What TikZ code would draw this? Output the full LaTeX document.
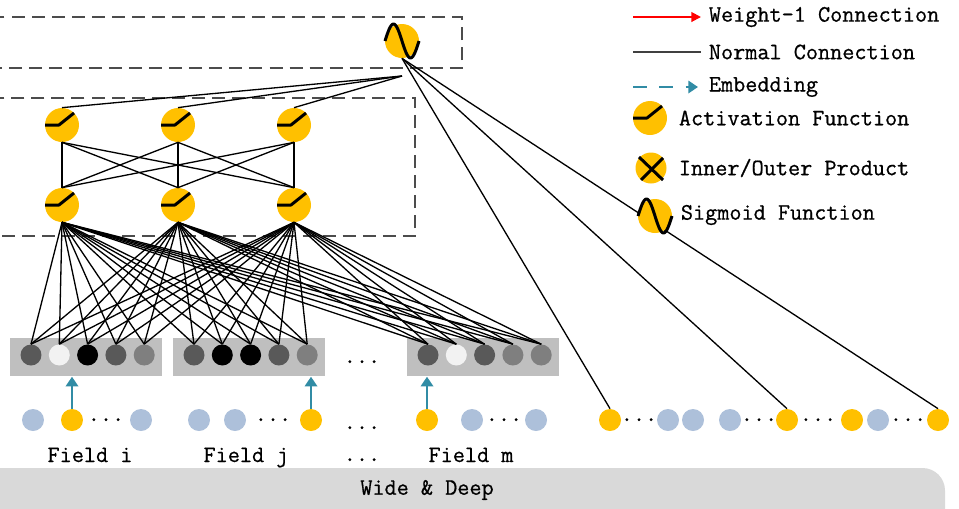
\documentclass[tikz,border=0pt]{standalone}
\usepackage{fontspec}
\usepackage{tikz}
\usetikzlibrary{arrows.meta,calc}

\newfontfamily\lblfont[FakeBold=0.7]{Latin Modern Mono}

\definecolor{yel}{RGB}{255,192,0}
\definecolor{fblue}{RGB}{173,192,218}
\definecolor{embcol}{RGB}{49,140,165}
\definecolor{boxgray}{RGB}{191,191,191}
\definecolor{bargray}{RGB}{217,217,217}
\definecolor{embdk}{RGB}{89,89,89}
\definecolor{embwt}{RGB}{242,242,242}
\definecolor{embbk}{RGB}{0,0,0}
\definecolor{embmd}{RGB}{127,127,127}

\tikzset{
  act/.style={circle, fill=yel, minimum size=0.68cm, inner sep=0pt},
  emb/.style={circle, minimum size=0.42cm, inner sep=0pt},
  feat/.style={circle, minimum size=0.44cm, inner sep=0pt},
  boxn/.style={fill=boxgray, minimum width=3.04cm, minimum height=0.76cm, inner sep=0pt, anchor=north west},
  conn/.style={line width=0.75pt},
  sym/.style={line width=1.7pt, line join=round},
  dbox/.style={draw=black!70, line width=1.1pt, dash pattern=on 7.4pt off 4pt},
  lbl/.style={font=\lblfont\fontsize{13.4}{15}\selectfont, inner sep=4.3pt},
  embarrow/.style={draw=embcol, line width=1.4pt, -{Triangle[width=7pt,length=5.5pt]}},
}

\newcommand\actsym[1]{\draw[sym] ($(#1)+(-17,0)$) -- ($(#1)+(-3,0)$) -- ($(#1)+(12,-12)$);}
\newcommand\sigsym[1]{\draw[sym, shift={(#1)}] plot[domain=-17:17, samples=40, smooth] (\x, {-17*sin(360*(\x+17)/34)});}

\begin{document}
\begin{tikzpicture}[x=0.02cm, y=-0.02cm]
        \useasboundingbox (0,0) rectangle (959,508);
        \clip (0,0) rectangle (959,508);

        \draw[dbox] (-20,17) rectangle (462,68);
        \draw[dbox] (-20,98) rectangle (415,236);

        \fill[bargray, rounded corners=0.45cm] (-30,468) rectangle (945,540);
        \node[lbl] (wd) at (427,490) {Wide \& Deep};

        % output unit
        \node[act] (sig) at (402,41) {};
        \sigsym{sig}
        \coordinate (sigin) at (402,76);

        % hidden layers
        \foreach \i/\x in {1/62,2/178,3/294} {
            \node[act] (u\i) at (\x,125) {};
            \node[act] (l\i) at (\x,205) {};
        }
        \foreach \i in {1,2,3} {
            \draw[conn] (u\i.north) -- (sigin);
            \foreach \j in {1,2,3}
                \draw[conn] (u\i.south) -- (l\j.north);
        }
        \foreach \i in {1,2,3} {
            \actsym{u\i}
            \actsym{l\i}
        }

        % embeddings
        \foreach \b/\bx/\cols in {1/10/{embdk,embwt,embbk,embdk,embmd},
                                  2/173/{embdk,embbk,embbk,embdk,embmd},
                                  3/407/{embdk,embwt,embdk,embmd,embmd}} {
            \node[boxn] (box\b) at (\bx,338) {};
            \foreach \c [count=\k] in \cols {
                \pgfmathsetmacro{\ex}{\bx + 21 + 28.3*(\k-1)}
                \node[emb, fill=\c] (e\b-\k) at (\ex,355) {};
            }
        }
        \foreach \h in {1,2,3}
            \foreach \b in {1,2,3}
                \foreach \k in {1,...,5}
                    \draw[conn] (l\h.south) -- (e\b-\k.north);

        % fields
        \foreach \n/\x/\c in {fi1/33/fblue, fi2/72/yel, fi3/141/fblue,
                              fj1/199/fblue, fj2/235/fblue, fj3/311/yel,
                              fm1/427/yel, fm2/472/fblue, fm3/536/fblue}
            \node[feat, fill=\c] (\n) at (\x,420) {};
        \foreach \x in {106,273,504}
            \node[lbl, anchor=base] (fdot\x) at (\x,421) {...};
        \node[lbl, anchor=base] (cdot1) at (362,363) {...};
        \node[lbl, anchor=base] (cdot2) at (362,429) {...};
        \node[lbl, anchor=base] (cdot3) at (362,461) {...};
        \node[lbl, anchor=base] (fli) at (90,462) {Field i};
        \node[lbl, anchor=base] (flj) at (246,462) {Field j};
        \node[lbl, anchor=base] (flm) at (471,462) {Field m};

        \draw[embarrow] (fi2.north) -- (fi2.north |- box1.south);
        \draw[embarrow] (fj3.north) -- (fj3.north |- box2.south);
        \draw[embarrow] (fm1.north) -- (fm1.north |- box3.south);

        % wide part
        \foreach \n/\x/\c in {w1/610/yel, w2/668/fblue, w3/693/fblue, w4/730/fblue,
                              w5/787/yel, w6/852/yel, w7/878/fblue, w8/938/yel}
            \node[feat, fill=\c] (\n) at (\x,420) {};
        \foreach \x in {639,759,818,908}
            \node[lbl, anchor=base] (wdot\x) at (\x,421) {...};
        \foreach \n in {w1,w5,w8}
            \draw[conn] (sig.south) -- (\n.north);

        % legend
        \node[lbl, anchor=west] (lg1) at (701,17) {Weight-1 Connection};
        \node[lbl, anchor=west] (lg2) at (701,52) {Normal Connection};
        \node[lbl, anchor=west] (lg3) at (701,87) {Embedding};
        \draw[red, line width=1.1pt, -{Triangle[width=5.5pt,length=5.5pt]}] ($(lg1.west)+(-68,0)$) -- (lg1.west);
        \draw[black!75, line width=1.1pt] ($(lg2.west)+(-68,0)$) -- (lg2.west);
        \draw[embcol, line width=1.4pt, dash pattern=on 8pt off 7pt, -{Triangle[width=7pt,length=5.5pt]}] ($(lg3.west)+(-68,0)$) -- ($(lg3.west)+(-3,0)$);

        \node[act] (lga) at (650,118) {};
        \actsym{lga}
        \node[lbl, anchor=west] (lg4) at (671,118) {Activation Function};
        \node[act, minimum size=0.62cm] (lgi) at (651,168) {};
        \draw[sym] ($(lgi)+(-12,-11)$) -- ($(lgi)+(12,12)$);
        \draw[sym] ($(lgi)+(-10,12)$) -- ($(lgi)+(12,-10)$);
        \node[lbl, anchor=west] (lg5) at (671,168) {Inner/Outer Product};
        \node[act] (lgs) at (655,216) {};
        \sigsym{lgs}
        \node[lbl, anchor=west] (lg6) at (673,215) {Sigmoid Function};
\end{tikzpicture}
\end{document}
